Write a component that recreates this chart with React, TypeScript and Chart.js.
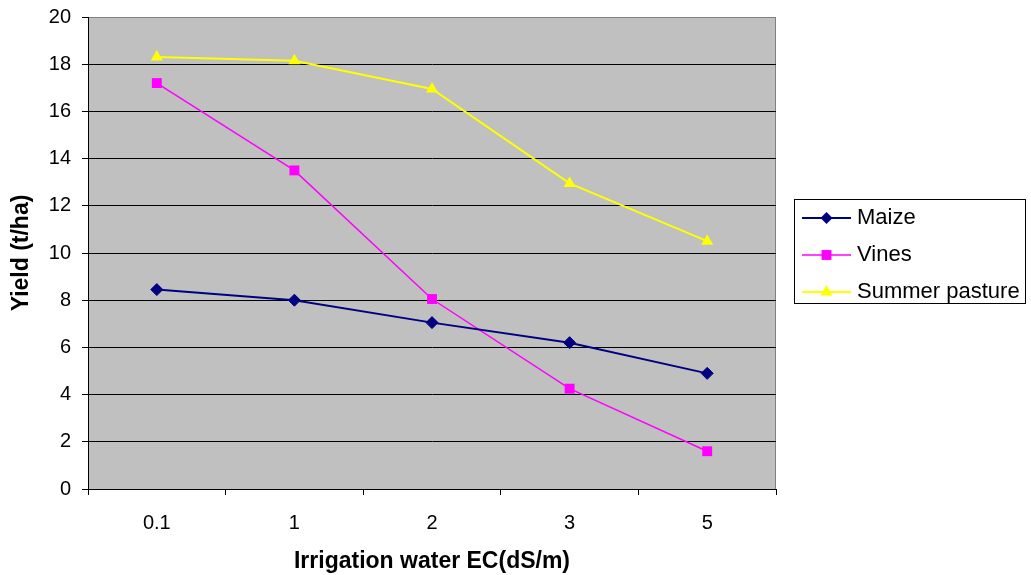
import React, { useEffect, useRef } from "react";
import { Chart, registerables } from "chart.js";

Chart.register(...registerables);

const categories = ["0.1", "1", "2", "3", "5"];
const maize = [8.45, 8.0, 7.05, 6.2, 4.9];
const vines = [17.2, 13.5, 8.05, 4.25, 1.6];
const summerPasture = [18.3, 18.15, 16.95, 12.95, 10.5];
const seriesNames = ["Maize", "Vines", "Summer pasture"];
const yTitle = "Yield (t/ha)";
const xTitle = "Irrigation water EC(dS/m)";

const FONT = "'Liberation Sans', Arial, sans-serif";

const plotBgPlugin = {
  id: "plotBg",
  beforeDraw(chart: any) {
    const { ctx, chartArea } = chart;
    const { left, top, right, bottom } = chartArea;
    ctx.save();
    ctx.fillStyle = "#C0C0C0";
    ctx.fillRect(left, top, right - left, bottom - top);
    ctx.strokeStyle = "#808080";
    ctx.lineWidth = 1;
    ctx.strokeRect(left + 0.5, top + 0.5, right - left - 1, bottom - top);
    ctx.restore();
  },
};

function drawMarker(ctx: any, style: string, x: number, y: number, r: number) {
  ctx.beginPath();
  if (style === "rect") {
    const s = Math.SQRT1_2 * r;
    ctx.rect(x - s, y - s, 2 * s, 2 * s);
  } else if (style === "rectRot") {
    ctx.moveTo(x, y - r);
    ctx.lineTo(x + r, y);
    ctx.lineTo(x, y + r);
    ctx.lineTo(x - r, y);
    ctx.closePath();
  } else {
    let rad = 0;
    ctx.moveTo(x + Math.sin(rad) * r, y - Math.cos(rad) * r);
    rad += (2 * Math.PI) / 3;
    ctx.lineTo(x + Math.sin(rad) * r, y - Math.cos(rad) * r);
    rad += (2 * Math.PI) / 3;
    ctx.lineTo(x + Math.sin(rad) * r, y - Math.cos(rad) * r);
    ctx.closePath();
  }
  ctx.fill();
}

const legendPlugin = {
  id: "boxLegend",
  afterDraw(chart: any) {
    const { ctx } = chart;
    const bx = 794, by = 199, bw = 231, bh = 104;
    ctx.save();
    ctx.fillStyle = "#FFFFFF";
    ctx.fillRect(bx, by, bw, bh);
    ctx.strokeStyle = "#000000";
    ctx.lineWidth = 1;
    ctx.strokeRect(bx + 0.5, by + 0.5, bw, bh);
    chart.data.datasets.forEach((ds: any, i: number) => {
      const y = 218 + i * 37;
      ctx.strokeStyle = ds.borderColor;
      ctx.lineWidth = ds.borderWidth;
      ctx.beginPath();
      ctx.moveTo(802, y);
      ctx.lineTo(851, y);
      ctx.stroke();
      ctx.fillStyle = ds.backgroundColor;
      drawMarker(ctx, ds.pointStyle, 826.5, y, ds.pointRadius);
      ctx.fillStyle = "#000000";
      ctx.font = `22px ${FONT}`;
      ctx.textBaseline = "middle";
      ctx.textAlign = "left";
      ctx.fillText(ds.label, 857, y);
    });
    ctx.restore();
  },
};

export default function App() {
  const canvasRef = useRef<HTMLCanvasElement>(null);

  useEffect(() => {
    const canvas = canvasRef.current;
    if (!canvas) return;
    const chart = new Chart(canvas, {
      type: "line",
      data: {
        labels: categories,
        datasets: [
          {
            label: seriesNames[0],
            data: maize,
            borderColor: "#000080",
            backgroundColor: "#000080",
            borderWidth: 2,
            pointStyle: "rectRot",
            pointRadius: 6,
            pointBorderWidth: 1,
          },
          {
            label: seriesNames[1],
            data: vines,
            borderColor: "#FF00FF",
            backgroundColor: "#FF00FF",
            borderWidth: 1.5,
            pointStyle: "rect",
            pointRadius: 7,
            pointBorderWidth: 0,
          },
          {
            label: seriesNames[2],
            data: summerPasture,
            borderColor: "#FFFF00",
            backgroundColor: "#FFFF00",
            borderWidth: 2,
            pointStyle: "triangle",
            pointRadius: 7,
            pointBorderWidth: 0,
          },
        ] as any,
      },
      options: {
        animation: false,
        responsive: false,
        layout: { padding: { top: 17, right: 255, left: 0, bottom: 0 } },
        plugins: {
          legend: { display: false },
          tooltip: { enabled: false },
        },
        scales: {
          x: {
            offset: true,
            grid: {
              offset: true,
              drawOnChartArea: false,
              drawTicks: true,
              tickLength: 6,
              color: "#000000",
            },
            border: { display: true, color: "#000000", width: 1 },
            ticks: {
              color: "#000000",
              font: { family: FONT, size: 20 },
              padding: 16,
            },
            title: {
              display: true,
              text: xTitle,
              color: "#000000",
              font: { family: FONT, size: 23, weight: "bold" },
              padding: { top: 0, bottom: 0 },
            },
            afterFit(scale: any) {
              scale.height = 86;
              scale.paddingLeft = 0;
              scale.paddingRight = 0;
            },
          },
          y: {
            min: 0,
            max: 20,
            ticks: {
              stepSize: 2,
              color: "#000000",
              font: { family: FONT, size: 20 },
              padding: 11,
            },
            grid: {
              color: (c: any) => (c.tick && c.tick.value === 20 ? "#808080" : "#000000"),
              tickColor: "#000000",
              tickLength: 6,
              lineWidth: 1,
            },
            border: { display: true, color: "#000000", width: 1 },
            title: {
              display: true,
              text: yTitle,
              color: "#000000",
              font: { family: FONT, size: 23, weight: "bold" },
              padding: { top: 8, bottom: 0 },
            },
            afterFit(scale: any) {
              scale.width = 88;
              scale.paddingTop = 0;
              scale.paddingBottom = 0;
            },
          },
        },
      } as any,
      plugins: [plotBgPlugin, legendPlugin],
    });
    return () => chart.destroy();
  }, []);

  return (
    <div style={{ position: "absolute", left: 0, top: 0, width: 1031, height: 575, background: "#FFFFFF" }}>
      <canvas ref={canvasRef} width={1031} height={575} style={{ display: "block" }} />
    </div>
  );
}
